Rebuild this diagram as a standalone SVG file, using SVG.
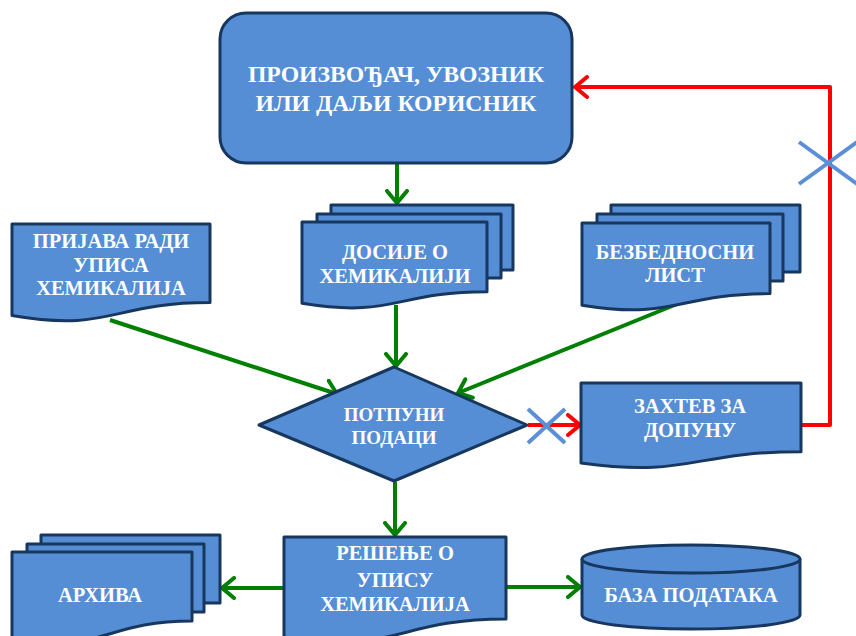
<svg xmlns="http://www.w3.org/2000/svg" width="856" height="636" viewBox="0 0 856 636">
<style>
.s{fill:#558ED5;stroke:#17375E;stroke-width:3;stroke-linejoin:round}
.t{font-family:"Liberation Serif","Times New Roman",serif;font-weight:bold;fill:#fff;text-anchor:middle;font-size:20.5px}
.g{stroke:#008000;stroke-width:4;fill:none;marker-end:url(#ag)}
.r{stroke:#FF0000;stroke-width:4;fill:none;marker-end:url(#ar);stroke-linejoin:round}
.x{stroke:#5B8FD6;stroke-width:4;fill:none}
</style>
<defs>
<marker id="ag" viewBox="0 0 16 24" refX="14" refY="12" markerWidth="16" markerHeight="24" markerUnits="userSpaceOnUse" orient="auto"><path d="M2,2 L14,12 L2,22" fill="none" stroke="#008000" stroke-width="4" stroke-linecap="round" stroke-linejoin="round"/></marker>
<marker id="ar" viewBox="0 0 16 24" refX="14" refY="12" markerWidth="16" markerHeight="24" markerUnits="userSpaceOnUse" orient="auto"><path d="M2,2 L14,12 L2,22" fill="none" stroke="#FF0000" stroke-width="4" stroke-linecap="round" stroke-linejoin="round"/></marker>
</defs>
<rect width="856" height="636" fill="#fff"/>
<g id="connectors">
<line class="g" x1="397" y1="164" x2="397" y2="203"/>
<line class="g" x1="110" y1="320" x2="337" y2="394"/>
<line class="g" x1="396" y1="305" x2="396" y2="366"/>
<line class="g" x1="677" y1="304" x2="458" y2="393"/>
<line class="r" x1="528" y1="425" x2="580" y2="425"/>
<polyline class="r" points="801,425 830,425 830,87 575,87"/>
<line class="g" x1="395" y1="482" x2="395" y2="535"/>
<line class="g" x1="284" y1="588" x2="222" y2="588"/>
<line class="g" x1="506" y1="587" x2="580" y2="587"/>
<path class="x" d="M528,409 L565,443 M565,409 L528,443"/>
<path class="x" d="M799,142 L857,184 M857,142 L799,184"/>
</g>
<g id="producer">
<rect class="s" x="220" y="13" width="352" height="150" rx="26"/>
<text class="t" style="font-size:23.7px" x="396" y="82">ПРОИЗВОЂАЧ, УВОЗНИК</text>
<text class="t" style="font-size:23.7px" x="396" y="111">ИЛИ ДАЉИ КОРИСНИК</text>
</g>
<g id="prijava">
<path class="s" d="M12,224 H210 V302.6 C111,302.6 111,332.5 12,315.5 Z"/>
<text class="t" x="111" y="248">ПРИЈАВА РАДИ</text>
<text class="t" x="111" y="272">УПИСА</text>
<text class="t" x="111" y="295">ХЕМИКАЛИЈА</text>
</g>
<g id="dosije">
<rect class="s" x="331" y="205" width="182" height="65"/>
<rect class="s" x="317" y="214" width="184" height="64"/>
<path class="s" d="M302,222 H487 V291.8 C394.5,291.8 394.5,318.3 302,303.3 Z"/>
<text class="t" x="395" y="259">ДОСИЈЕ О</text>
<text class="t" x="395" y="283">ХЕМИКАЛИЈИ</text>
</g>
<g id="bezbednosni">
<rect class="s" x="611" y="205" width="189" height="67"/>
<rect class="s" x="597" y="214" width="186" height="67"/>
<path class="s" d="M582,223 H770 V293.6 C676,293.6 676,320.4 582,305.2 Z"/>
<text class="t" x="675" y="259">БЕЗБЕДНОСНИ</text>
<text class="t" x="675" y="282">ЛИСТ</text>
</g>
<g id="decision">
<path class="s" d="M394,367 L527,425 L394,481 L259,425 Z"/>
<text class="t" style="font-size:19px" x="394" y="421">ПОТПУНИ</text>
<text class="t" style="font-size:19px" x="394" y="444">ПОДАЦИ</text>
</g>
<g id="zahtev">
<path class="s" d="M581,383 H801 V451.7 C691,451.7 691,477.8 581,463 Z"/>
<text class="t" x="690" y="413">ЗАХТЕВ ЗА</text>
<text class="t" x="690" y="437">ДОПУНУ</text>
</g>
<g id="resenje">
<path class="s" d="M284,537 H506 V619 C395,619 395,656 284,637 Z"/>
<text class="t" x="395" y="560">РЕШЕЊЕ О</text>
<text class="t" x="395" y="587">УПИСУ</text>
<text class="t" x="395" y="611">ХЕМИКАЛИЈА</text>
</g>
<g id="arhiva">
<rect class="s" x="41" y="535" width="179" height="68"/>
<rect class="s" x="27" y="544" width="177" height="68"/>
<path class="s" d="M12,552 H192 V621 C102,621 102,656 12,637 Z"/>
<text class="t" x="100" y="602">АРХИВА</text>
</g>
<g id="baza">
<path class="s" d="M582,559 V615 A109,14 0 0 0 800,615 V559"/>
<ellipse class="s" cx="691" cy="559" rx="109" ry="14"/>
<text class="t" x="691" y="602">БАЗА ПОДАТАКА</text>
</g>
</svg>
